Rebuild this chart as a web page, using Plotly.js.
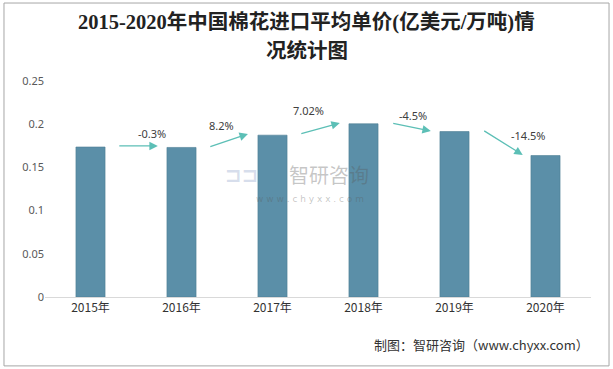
<!DOCTYPE html>
<html><head><meta charset="utf-8">
<script src="https://cdn.plot.ly/plotly-3.0.1.min.js"></script>
<style>html,body{margin:0;padding:0;background:#fff;}#chart{width:613px;height:369px;}</style>
</head><body><div id="chart"></div>
<script>
const years = ["2015年","2016年","2017年","2018年","2019年","2020年"];
const prices = [0.1736, 0.1731, 0.1873, 0.2005, 0.1915, 0.1637];
const changes = ["-0.3%","8.2%","7.02%","-4.5%","-14.5%"];
const titleLines = ["2015-2020年中国棉花进口平均单价(亿美元/万吨)情", "况统计图"];

// arrow geometry (layout only)
const arrowFrom = [[0.30,0.1748],[1.30,0.1736],[2.30,0.1887],[3.31,0.2014],[4.31,0.1933]];
const arrowTo   = [[0.74,0.1748],[1.73,0.1887],[2.74,0.2014],[3.74,0.1921],[4.75,0.1644]];
const labelPos  = [[0.68,0.1898],[1.44,0.1980],[2.40,0.2164],[3.54,0.2106],[4.81,0.1875]];

const annotations = [];
for (let i = 0; i < changes.length; i++) {
  annotations.push({
    xref:'x', yref:'y', axref:'x', ayref:'y',
    x: arrowTo[i][0], y: arrowTo[i][1], ax: arrowFrom[i][0], ay: arrowFrom[i][1],
    text:'', showarrow:true, arrowhead:2, arrowsize:1.3, arrowwidth:1.3, arrowcolor:'#5cbfb6'
  });
  annotations.push({
    xref:'x', yref:'y', x: labelPos[i][0], y: labelPos[i][1],
    text: changes[i], showarrow:false,
    font:{family:'"Noto Sans", "DejaVu Sans", sans-serif', size:11, color:'#404040'}
  });
}
// title (two lines)
const titleFont = {family:'"Liberation Serif", "Noto Sans CJK SC", serif', size:20.5, color:'#222'};
annotations.push({xref:'paper', yref:'paper', x:0.479, y:1.273, xanchor:'center', yanchor:'middle',
  text:'<b>'+titleLines[0]+'</b>', showarrow:false, font:titleFont});
annotations.push({xref:'paper', yref:'paper', x:0.479, y:1.1435, xanchor:'center', yanchor:'middle',
  text:'<b>'+titleLines[1]+'</b>', showarrow:false, font:titleFont});
// watermark
annotations.push({xref:'paper', yref:'paper', x:0.36, y:0.566, xanchor:'center', yanchor:'middle',
  text:'<b>⊐⊐</b>', showarrow:false, font:{family:'DejaVu Sans', size:20, color:'rgba(140,160,200,0.35)'}});
annotations.push({xref:'paper', yref:'paper', x:0.52, y:0.566, xanchor:'center', yanchor:'middle',
  text:'智研咨询', showarrow:false, font:{family:'"Noto Sans CJK SC", sans-serif', size:20, color:'rgba(90,90,90,0.35)'}});
annotations.push({xref:'paper', yref:'paper', x:0.485, y:0.455, xanchor:'center', yanchor:'middle',
  text:'w w w . c h y x x . c o m', showarrow:false, font:{family:'"DejaVu Sans", sans-serif', size:9, color:'rgba(90,90,90,0.35)'}});
// source
annotations.push({xref:'paper', yref:'paper', x:1.0, y:-0.22, xanchor:'right', yanchor:'middle',
  text:'制图：智研咨询（www.chyxx.com）', showarrow:false,
  font:{family:'"Noto Sans CJK SC", "DejaVu Sans Mono", sans-serif', size:13, color:'#333'}});

const data = [{
  type:'bar', x: years, y: prices,
  marker:{color:'#5b8fa8', line:{color:'#4d7d93', width:0.6}},
  width:0.32, hoverinfo:'skip'
}];

const layout = {
  width:613, height:369,
  margin:{l:45, r:22, t:81, b:72},
  paper_bgcolor:'#fff', plot_bgcolor:'#fff',
  showlegend:false,
  xaxis:{
    type:'category', showgrid:false, zeroline:false,
    showline:true, linecolor:'#d9d9d9', linewidth:1,
    ticks:'', tickfont:{family:'"Noto Sans CJK SC", "Noto Sans", sans-serif', size:12, color:'#333'},
    range:[-0.5,5.5], fixedrange:true
  },
  yaxis:{
    range:[0,0.25], dtick:0.05, tick0:0, showgrid:false, zeroline:false, showline:false,
    ticks:'', ticklen:0, tickfont:{family:'"Noto Sans", "DejaVu Sans", sans-serif', size:11, color:'#595959'},
    fixedrange:true
  },
  annotations: annotations,
  shapes:[{type:'rect', xref:'paper', yref:'paper', x0:-0.0751, x1:1.033, y0:-0.319, y1:1.361,
    line:{color:'#a6a6a6', width:1}, fillcolor:'rgba(0,0,0,0)', layer:'below'}]
};

Plotly.newPlot('chart', data, layout, {displayModeBar:false, staticPlot:true});
</script>
</body></html>
